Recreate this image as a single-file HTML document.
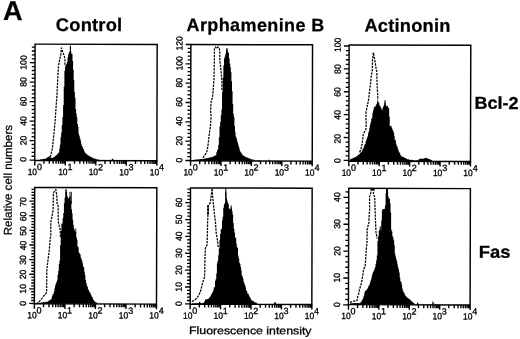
<!DOCTYPE html>
<html lang="en">
<head>
<meta charset="utf-8">
<title>Figure A</title>
<style>
html,body{margin:0;padding:0;background:#fff;}
body{width:520px;height:339px;overflow:hidden;}
svg{display:block;}
</style>
</head>
<body>
<svg width="520" height="339" viewBox="0 0 520 339" font-family='"Liberation Sans", Arial, Helvetica, sans-serif'>
<rect width="520" height="339" fill="#fff"/>
<g transform="rotate(0.15 260 170)">
<text x="2.71" y="20.77" font-size="27.4" font-weight="bold" text-anchor="start" fill="#000" stroke="#000" stroke-width="0.2" textLength="19.60" lengthAdjust="spacingAndGlyphs">A</text>
<text x="55.44" y="31.43" font-size="18.3" font-weight="bold" text-anchor="start" fill="#000" stroke="#000" stroke-width="0.25" textLength="66.40" lengthAdjust="spacing">Control</text>
<text x="186.24" y="31.19" font-size="18.0" font-weight="bold" text-anchor="start" fill="#000" stroke="#000" stroke-width="0.25" textLength="137.60" lengthAdjust="spacing">Arphamenine B</text>
<text x="364.04" y="31.33" font-size="18.3" font-weight="bold" text-anchor="start" fill="#000" stroke="#000" stroke-width="0.25" textLength="86.00" lengthAdjust="spacing">Actinonin</text>
<text x="474.34" y="108.24" font-size="17.2" font-weight="bold" text-anchor="start" fill="#000" stroke="#000" stroke-width="0.3" textLength="44.00" lengthAdjust="spacingAndGlyphs">Bcl-2</text>
<text x="479.03" y="257.13" font-size="17.2" font-weight="bold" text-anchor="start" fill="#000" stroke="#000" stroke-width="0.3" textLength="31.60" lengthAdjust="spacingAndGlyphs">Fas</text>
<text x="11.87" y="235.95" font-size="11.4" font-weight="normal" text-anchor="start" fill="#000" stroke="#000" stroke-width="0.25" textLength="110.40" lengthAdjust="spacingAndGlyphs" transform="rotate(-90 11.87 235.95)">Relative cell numbers</text>
<text x="189.53" y="334.29" font-size="10.8" font-weight="normal" text-anchor="start" fill="#000" stroke="#000" stroke-width="0.3" textLength="122.40" lengthAdjust="spacingAndGlyphs">Fluorescence intensity</text>
<rect x="34.75" y="44.70" width="122.10" height="116.30" fill="none" stroke="#000" stroke-width="1.45"/>
<path d="M34.75 161.00 v5.00 M43.94 161.00 v3.30 M49.31 161.00 v3.30 M53.13 161.00 v3.30 M56.09 161.00 v3.30 M58.50 161.00 v3.30 M60.55 161.00 v3.30 M62.32 161.00 v3.30 M63.88 161.00 v3.30 M65.28 161.00 v5.00 M74.46 161.00 v3.30 M79.84 161.00 v3.30 M83.65 161.00 v3.30 M86.61 161.00 v3.30 M89.03 161.00 v3.30 M91.07 161.00 v3.30 M92.84 161.00 v3.30 M94.40 161.00 v3.30 M95.80 161.00 v5.00 M104.99 161.00 v3.30 M110.36 161.00 v3.30 M114.18 161.00 v3.30 M117.14 161.00 v3.30 M119.55 161.00 v3.30 M121.60 161.00 v3.30 M123.37 161.00 v3.30 M124.93 161.00 v3.30 M126.32 161.00 v5.00 M135.51 161.00 v3.30 M140.89 161.00 v3.30 M144.70 161.00 v3.30 M147.66 161.00 v3.30 M150.08 161.00 v3.30 M152.12 161.00 v3.30 M153.89 161.00 v3.30 M155.45 161.00 v3.30 M156.85 161.00 v5.0" stroke="#000" stroke-width="1.4" fill="none"/>
<text x="27.65" y="175.50" font-size="9.0" font-weight="normal" text-anchor="start" fill="#000" stroke="#000" stroke-width="0.3" textLength="9.40" lengthAdjust="spacingAndGlyphs">10</text>
<text x="36.95" y="170.60" font-size="9.0" font-weight="normal" text-anchor="start" fill="#000" stroke="#000" stroke-width="0.3">0</text>
<text x="58.18" y="175.50" font-size="9.0" font-weight="normal" text-anchor="start" fill="#000" stroke="#000" stroke-width="0.3" textLength="9.40" lengthAdjust="spacingAndGlyphs">10</text>
<text x="67.48" y="170.60" font-size="9.0" font-weight="normal" text-anchor="start" fill="#000" stroke="#000" stroke-width="0.3">1</text>
<text x="88.70" y="175.50" font-size="9.0" font-weight="normal" text-anchor="start" fill="#000" stroke="#000" stroke-width="0.3" textLength="9.40" lengthAdjust="spacingAndGlyphs">10</text>
<text x="98.00" y="170.60" font-size="9.0" font-weight="normal" text-anchor="start" fill="#000" stroke="#000" stroke-width="0.3">2</text>
<text x="119.22" y="175.50" font-size="9.0" font-weight="normal" text-anchor="start" fill="#000" stroke="#000" stroke-width="0.3" textLength="9.40" lengthAdjust="spacingAndGlyphs">10</text>
<text x="128.52" y="170.60" font-size="9.0" font-weight="normal" text-anchor="start" fill="#000" stroke="#000" stroke-width="0.3">3</text>
<text x="149.75" y="175.50" font-size="9.0" font-weight="normal" text-anchor="start" fill="#000" stroke="#000" stroke-width="0.3" textLength="9.40" lengthAdjust="spacingAndGlyphs">10</text>
<text x="159.05" y="170.60" font-size="9.0" font-weight="normal" text-anchor="start" fill="#000" stroke="#000" stroke-width="0.3">4</text>
<path d="M34.75 160.70 h-5.20 M34.75 156.80 h-3.20 M34.75 152.91 h-3.20 M34.75 149.01 h-3.20 M34.75 145.12 h-3.20 M34.75 141.22 h-5.20 M34.75 137.32 h-3.20 M34.75 133.43 h-3.20 M34.75 129.53 h-3.20 M34.75 125.64 h-3.20 M34.75 121.74 h-5.20 M34.75 117.84 h-3.20 M34.75 113.95 h-3.20 M34.75 110.05 h-3.20 M34.75 106.16 h-3.20 M34.75 102.26 h-5.20 M34.75 98.36 h-3.20 M34.75 94.47 h-3.20 M34.75 90.57 h-3.20 M34.75 86.68 h-3.20 M34.75 82.78 h-5.20 M34.75 78.88 h-3.20 M34.75 74.99 h-3.20 M34.75 71.09 h-3.20 M34.75 67.20 h-3.20 M34.75 63.30 h-5.20 M34.75 59.40 h-3.20 M34.75 55.51 h-3.20 M34.75 51.61 h-3.20 M34.75 47.72 h-3.20" stroke="#000" stroke-width="1.35" fill="none"/>
<text x="26.35" y="160.00" font-size="9.0" font-weight="normal" text-anchor="middle" fill="#000" stroke="#000" stroke-width="0.3" textLength="4.80" lengthAdjust="spacingAndGlyphs" transform="rotate(-90 26.35 160.00)">0</text>
<text x="26.35" y="141.02" font-size="9.0" font-weight="normal" text-anchor="middle" fill="#000" stroke="#000" stroke-width="0.3" textLength="9.60" lengthAdjust="spacingAndGlyphs" transform="rotate(-90 26.35 141.02)">20</text>
<text x="26.35" y="121.54" font-size="9.0" font-weight="normal" text-anchor="middle" fill="#000" stroke="#000" stroke-width="0.3" textLength="9.60" lengthAdjust="spacingAndGlyphs" transform="rotate(-90 26.35 121.54)">40</text>
<text x="26.35" y="102.06" font-size="9.0" font-weight="normal" text-anchor="middle" fill="#000" stroke="#000" stroke-width="0.3" textLength="9.60" lengthAdjust="spacingAndGlyphs" transform="rotate(-90 26.35 102.06)">60</text>
<text x="26.35" y="82.58" font-size="9.0" font-weight="normal" text-anchor="middle" fill="#000" stroke="#000" stroke-width="0.3" textLength="9.60" lengthAdjust="spacingAndGlyphs" transform="rotate(-90 26.35 82.58)">80</text>
<text x="26.35" y="63.10" font-size="9.0" font-weight="normal" text-anchor="middle" fill="#000" stroke="#000" stroke-width="0.3" textLength="14.40" lengthAdjust="spacingAndGlyphs" transform="rotate(-90 26.35 63.10)">100</text>
<path d="M39.97 160.70 L39.97 160.01 L40.59 160.01 L40.59 159.84 L41.21 159.84 L41.21 160.02 L41.83 160.02 L41.83 159.66 L42.45 159.66 L42.45 159.79 L43.07 159.79 L43.07 159.61 L43.69 159.61 L43.69 159.41 L44.31 159.41 L44.31 159.52 L44.93 159.52 L44.93 159.19 L45.55 159.19 L45.55 159.24 L46.17 159.24 L46.17 158.60 L46.79 158.60 L46.79 158.08 L47.41 158.08 L47.41 157.75 L48.03 157.75 L48.03 157.44 L48.65 157.44 L48.65 156.76 L49.27 156.76 L49.27 157.00 L49.89 157.00 L49.89 157.58 L50.51 157.58 L50.51 158.12 L51.13 158.12 L51.13 158.29 L51.75 158.29 L51.75 158.44 L52.37 158.44 L52.37 158.47 L52.99 158.47 L52.99 157.67 L53.61 157.67 L53.61 157.78 L54.23 157.78 L54.23 157.17 L54.85 157.17 L54.85 156.69 L55.47 156.69 L55.47 156.13 L56.09 156.13 L56.09 155.57 L56.71 155.57 L56.71 155.25 L57.33 155.25 L57.33 154.02 L57.95 154.02 L57.95 153.70 L58.57 153.70 L58.57 152.80 L59.19 152.80 L59.19 148.96 L59.81 148.96 L59.81 145.13 L60.43 145.13 L60.43 137.80 L61.05 137.80 L61.05 132.96 L61.67 132.96 L61.67 125.58 L62.29 125.58 L62.29 117.45 L62.91 117.45 L62.91 105.76 L63.53 105.76 L63.53 87.28 L64.15 87.28 L64.15 71.16 L64.77 71.16 L64.77 66.96 L65.39 66.96 L65.39 65.08 L66.01 65.08 L66.01 64.82 L66.63 64.82 L66.63 62.50 L67.25 62.50 L67.25 57.66 L67.87 57.66 L67.87 54.82 L68.49 54.82 L68.49 52.77 L69.11 52.77 L69.11 52.20 L69.73 52.20 L69.73 52.00 L70.35 52.00 L70.35 51.86 L70.97 51.86 L70.97 54.18 L71.59 54.18 L71.59 54.17 L72.21 54.17 L72.21 61.57 L72.83 61.57 L72.83 70.44 L73.45 70.44 L73.45 80.52 L74.07 80.52 L74.07 92.41 L74.69 92.41 L74.69 98.27 L75.31 98.27 L75.31 109.38 L75.93 109.38 L75.93 114.03 L76.55 114.03 L76.55 117.74 L77.17 117.74 L77.17 124.57 L77.79 124.57 L77.79 127.21 L78.41 127.21 L78.41 134.25 L79.03 134.25 L79.03 136.26 L79.65 136.26 L79.65 138.70 L80.27 138.70 L80.27 140.80 L80.89 140.80 L80.89 143.86 L81.51 143.86 L81.51 146.24 L82.13 146.24 L82.13 147.25 L82.75 147.25 L82.75 149.22 L83.37 149.22 L83.37 149.55 L83.99 149.55 L83.99 151.61 L84.61 151.61 L84.61 152.65 L85.23 152.65 L85.23 153.68 L85.85 153.68 L85.85 154.12 L86.47 154.12 L86.47 154.39 L87.09 154.39 L87.09 155.09 L87.71 155.09 L87.71 155.88 L88.33 155.88 L88.33 156.06 L88.95 156.06 L88.95 156.61 L89.57 156.61 L89.57 156.76 L90.19 156.76 L90.19 157.04 L90.81 157.04 L90.81 157.32 L91.43 157.32 L91.43 158.00 L92.05 158.00 L92.05 157.98 L92.67 157.98 L92.67 158.33 L93.29 158.33 L93.29 158.62 L93.91 158.62 L93.91 159.06 L94.53 159.06 L94.53 158.83 L95.15 158.83 L95.15 159.21 L95.77 159.21 L95.77 159.44 L96.39 159.44 L96.39 159.80 L97.01 159.80 L97.01 159.94 L97.63 159.94 L97.63 160.12 L98.25 160.12 L98.25 159.97 L98.87 159.97 L98.87 160.18 L99.49 160.18 L99.49 160.31 L100.11 160.31 L100.11 160.70 L100.73 160.70 L100.73 160.70 L101.35 160.70 L101.35 160.56 L101.97 160.56 L101.97 160.60 L102.59 160.60 L102.59 160.65 L103.21 160.65 L103.21 160.66 L103.83 160.66 L103.83 160.70 L104.45 160.70 L104.45 160.70 L105.07 160.70 L105.07 160.70 L105.69 160.70 L105.69 160.70 L106.31 160.70 L106.31 160.70 L106.93 160.70 L106.93 160.70 L107.55 160.70 L107.55 160.70 L108.17 160.70 L108.17 160.70 L108.79 160.70 L108.79 160.70 L109.41 160.70 L109.41 160.70 L110.03 160.70 L110.03 160.70 L110.65 160.70 L110.65 160.70 L111.27 160.70 L111.27 160.19 L111.89 160.19 L111.89 159.38 L112.51 159.38 L112.51 158.83 L113.13 158.83 L113.13 160.09 L113.75 160.09 L113.75 160.70 L114.37 160.70 L114.37 160.70 L114.98 160.70 L114.98 160.70 Z" fill="#000"/>
<path d="M70.07 46.20 L70.09 52.50" stroke="#000" stroke-width="1.15" fill="none"/>
<path d="M49.97 157.55 L50.96 155.55 L52.44 148.14 L53.22 140.04 L54.20 130.54 L55.07 121.04 L55.84 108.53 L56.42 100.53 L56.80 94.53 L57.75 74.13 L58.23 66.53 L59.31 60.52 L60.50 55.52 L61.08 48.32 L62.39 52.52 L63.90 56.01 L64.71 60.51 L64.73 66.51" fill="none" stroke="#000" stroke-width="1.25" stroke-dasharray="2.3 1.0" stroke-linejoin="round"/>
<rect x="190.55" y="44.70" width="121.65" height="116.30" fill="none" stroke="#000" stroke-width="1.45"/>
<path d="M190.55 161.00 v5.00 M199.71 161.00 v3.30 M205.06 161.00 v3.30 M208.86 161.00 v3.30 M211.81 161.00 v3.30 M214.22 161.00 v3.30 M216.25 161.00 v3.30 M218.02 161.00 v3.30 M219.57 161.00 v3.30 M220.96 161.00 v5.00 M230.12 161.00 v3.30 M235.47 161.00 v3.30 M239.27 161.00 v3.30 M242.22 161.00 v3.30 M244.63 161.00 v3.30 M246.66 161.00 v3.30 M248.43 161.00 v3.30 M249.98 161.00 v3.30 M251.38 161.00 v5.00 M260.53 161.00 v3.30 M265.89 161.00 v3.30 M269.69 161.00 v3.30 M272.63 161.00 v3.30 M275.04 161.00 v3.30 M277.08 161.00 v3.30 M278.84 161.00 v3.30 M280.40 161.00 v3.30 M281.79 161.00 v5.00 M290.94 161.00 v3.30 M296.30 161.00 v3.30 M300.10 161.00 v3.30 M303.04 161.00 v3.30 M305.45 161.00 v3.30 M307.49 161.00 v3.30 M309.25 161.00 v3.30 M310.81 161.00 v3.30 M312.20 161.00 v5.0" stroke="#000" stroke-width="1.4" fill="none"/>
<text x="183.45" y="175.50" font-size="9.0" font-weight="normal" text-anchor="start" fill="#000" stroke="#000" stroke-width="0.3" textLength="9.40" lengthAdjust="spacingAndGlyphs">10</text>
<text x="192.75" y="170.60" font-size="9.0" font-weight="normal" text-anchor="start" fill="#000" stroke="#000" stroke-width="0.3">0</text>
<text x="213.86" y="175.50" font-size="9.0" font-weight="normal" text-anchor="start" fill="#000" stroke="#000" stroke-width="0.3" textLength="9.40" lengthAdjust="spacingAndGlyphs">10</text>
<text x="223.16" y="170.60" font-size="9.0" font-weight="normal" text-anchor="start" fill="#000" stroke="#000" stroke-width="0.3">1</text>
<text x="244.28" y="175.50" font-size="9.0" font-weight="normal" text-anchor="start" fill="#000" stroke="#000" stroke-width="0.3" textLength="9.40" lengthAdjust="spacingAndGlyphs">10</text>
<text x="253.57" y="170.60" font-size="9.0" font-weight="normal" text-anchor="start" fill="#000" stroke="#000" stroke-width="0.3">2</text>
<text x="274.69" y="175.50" font-size="9.0" font-weight="normal" text-anchor="start" fill="#000" stroke="#000" stroke-width="0.3" textLength="9.40" lengthAdjust="spacingAndGlyphs">10</text>
<text x="283.99" y="170.60" font-size="9.0" font-weight="normal" text-anchor="start" fill="#000" stroke="#000" stroke-width="0.3">3</text>
<text x="305.10" y="175.50" font-size="9.0" font-weight="normal" text-anchor="start" fill="#000" stroke="#000" stroke-width="0.3" textLength="9.40" lengthAdjust="spacingAndGlyphs">10</text>
<text x="314.40" y="170.60" font-size="9.0" font-weight="normal" text-anchor="start" fill="#000" stroke="#000" stroke-width="0.3">4</text>
<path d="M190.55 160.70 h-5.20 M190.55 156.83 h-3.20 M190.55 152.96 h-3.20 M190.55 149.10 h-3.20 M190.55 145.23 h-3.20 M190.55 141.36 h-5.20 M190.55 137.49 h-3.20 M190.55 133.62 h-3.20 M190.55 129.76 h-3.20 M190.55 125.89 h-3.20 M190.55 122.02 h-5.20 M190.55 118.15 h-3.20 M190.55 114.28 h-3.20 M190.55 110.42 h-3.20 M190.55 106.55 h-3.20 M190.55 102.68 h-5.20 M190.55 98.81 h-3.20 M190.55 94.94 h-3.20 M190.55 91.08 h-3.20 M190.55 87.21 h-3.20 M190.55 83.34 h-5.20 M190.55 79.47 h-3.20 M190.55 75.60 h-3.20 M190.55 71.74 h-3.20 M190.55 67.87 h-3.20 M190.55 64.00 h-5.20 M190.55 60.13 h-3.20 M190.55 56.26 h-3.20 M190.55 52.40 h-3.20 M190.55 48.53 h-3.20 M190.55 44.66 h-5.20" stroke="#000" stroke-width="1.35" fill="none"/>
<text x="182.15" y="160.20" font-size="9.0" font-weight="normal" text-anchor="middle" fill="#000" stroke="#000" stroke-width="0.3" textLength="4.80" lengthAdjust="spacingAndGlyphs" transform="rotate(-90 182.15 160.20)">0</text>
<text x="182.15" y="140.86" font-size="9.0" font-weight="normal" text-anchor="middle" fill="#000" stroke="#000" stroke-width="0.3" textLength="9.60" lengthAdjust="spacingAndGlyphs" transform="rotate(-90 182.15 140.86)">20</text>
<text x="182.15" y="121.52" font-size="9.0" font-weight="normal" text-anchor="middle" fill="#000" stroke="#000" stroke-width="0.3" textLength="9.60" lengthAdjust="spacingAndGlyphs" transform="rotate(-90 182.15 121.52)">40</text>
<text x="182.15" y="102.18" font-size="9.0" font-weight="normal" text-anchor="middle" fill="#000" stroke="#000" stroke-width="0.3" textLength="9.60" lengthAdjust="spacingAndGlyphs" transform="rotate(-90 182.15 102.18)">60</text>
<text x="182.15" y="82.84" font-size="9.0" font-weight="normal" text-anchor="middle" fill="#000" stroke="#000" stroke-width="0.3" textLength="9.60" lengthAdjust="spacingAndGlyphs" transform="rotate(-90 182.15 82.84)">80</text>
<text x="182.15" y="63.50" font-size="9.0" font-weight="normal" text-anchor="middle" fill="#000" stroke="#000" stroke-width="0.3" textLength="14.40" lengthAdjust="spacingAndGlyphs" transform="rotate(-90 182.15 63.50)">100</text>
<text x="182.15" y="43.56" font-size="9.0" font-weight="normal" text-anchor="middle" fill="#000" stroke="#000" stroke-width="0.3" textLength="14.40" lengthAdjust="spacingAndGlyphs" transform="rotate(-90 182.15 43.56)">120</text>
<path d="M193.97 160.70 L193.97 159.88 L194.59 159.88 L194.59 159.75 L195.21 159.75 L195.21 159.92 L195.83 159.92 L195.83 159.66 L196.45 159.66 L196.45 159.62 L197.07 159.62 L197.07 159.57 L197.69 159.57 L197.69 159.53 L198.31 159.53 L198.31 159.55 L198.93 159.55 L198.93 159.43 L199.55 159.43 L199.55 159.35 L200.17 159.35 L200.17 159.27 L200.79 159.27 L200.79 159.17 L201.41 159.17 L201.41 159.21 L202.03 159.21 L202.03 158.99 L202.65 158.99 L202.65 159.30 L203.27 159.30 L203.27 159.07 L203.89 159.07 L203.89 158.74 L204.51 158.74 L204.51 158.70 L205.13 158.70 L205.13 158.62 L205.75 158.62 L205.75 158.49 L206.37 158.49 L206.37 158.22 L206.99 158.22 L206.99 158.47 L207.61 158.47 L207.61 158.40 L208.23 158.40 L208.23 157.99 L208.85 157.99 L208.85 157.86 L209.47 157.86 L209.47 157.51 L210.09 157.51 L210.09 157.38 L210.71 157.38 L210.71 157.36 L211.33 157.36 L211.33 157.18 L211.95 157.18 L211.95 157.27 L212.57 157.27 L212.57 156.63 L213.19 156.63 L213.19 156.25 L213.81 156.25 L213.81 156.44 L214.43 156.44 L214.43 155.91 L215.05 155.91 L215.05 155.40 L215.67 155.40 L215.67 155.41 L216.29 155.41 L216.29 152.26 L216.91 152.26 L216.91 150.68 L217.53 150.68 L217.53 149.42 L218.15 149.42 L218.15 145.22 L218.77 145.22 L218.77 137.35 L219.39 137.35 L219.39 126.56 L220.01 126.56 L220.01 122.00 L220.63 122.00 L220.63 115.34 L221.25 115.34 L221.25 109.65 L221.87 109.65 L221.87 91.71 L222.49 91.71 L222.49 77.83 L223.11 77.83 L223.11 65.59 L223.73 65.59 L223.73 58.64 L224.35 58.64 L224.35 56.71 L224.97 56.71 L224.97 53.99 L225.59 53.99 L225.59 51.21 L226.21 51.21 L226.21 49.06 L226.83 49.06 L226.83 49.97 L227.45 49.97 L227.45 52.38 L228.07 52.38 L228.07 53.10 L228.69 53.10 L228.69 58.69 L229.31 58.69 L229.31 63.50 L229.93 63.50 L229.93 67.26 L230.55 67.26 L230.55 72.27 L231.17 72.27 L231.17 81.43 L231.79 81.43 L231.79 91.29 L232.41 91.29 L232.41 103.99 L233.03 103.99 L233.03 113.86 L233.65 113.86 L233.65 116.97 L234.27 116.97 L234.27 126.12 L234.89 126.12 L234.89 132.24 L235.51 132.24 L235.51 136.48 L236.13 136.48 L236.13 138.18 L236.75 138.18 L236.75 140.59 L237.37 140.59 L237.37 142.79 L237.99 142.79 L237.99 144.88 L238.61 144.88 L238.61 146.95 L239.23 146.95 L239.23 149.38 L239.85 149.38 L239.85 151.26 L240.47 151.26 L240.47 152.30 L241.09 152.30 L241.09 153.00 L241.71 153.00 L241.71 154.32 L242.33 154.32 L242.33 155.27 L242.95 155.27 L242.95 155.20 L243.57 155.20 L243.57 155.88 L244.19 155.88 L244.19 156.38 L244.81 156.38 L244.81 156.69 L245.43 156.69 L245.43 157.05 L246.05 157.05 L246.05 157.23 L246.67 157.23 L246.67 157.32 L247.29 157.32 L247.29 157.88 L247.91 157.88 L247.91 157.89 L248.53 157.89 L248.53 158.38 L249.15 158.38 L249.15 158.72 L249.77 158.72 L249.77 158.66 L250.39 158.66 L250.39 158.88 L251.01 158.88 L251.01 159.38 L251.63 159.38 L251.63 159.48 L252.25 159.48 L252.25 159.40 L252.87 159.40 L252.87 159.60 L253.49 159.60 L253.49 159.82 L254.11 159.82 L254.11 160.39 L254.73 160.39 L254.73 160.56 L255.35 160.56 L255.35 160.47 L255.97 160.47 L255.97 160.70 L256.59 160.70 L256.59 160.70 L257.21 160.70 L257.21 160.70 L257.83 160.70 L257.83 159.96 L258.45 159.96 L258.45 160.03 L259.07 160.03 L259.07 160.53 L259.69 160.53 L259.69 160.56 L260.31 160.56 L260.31 160.70 L260.93 160.70 L260.93 160.70 L261.55 160.70 L261.55 160.70 L262.17 160.70 L262.17 160.70 L262.79 160.70 L262.79 160.70 L263.41 160.70 L263.41 160.70 L264.03 160.70 L264.03 160.70 L264.65 160.70 L264.65 160.70 L265.27 160.70 L265.27 160.70 L265.89 160.70 L265.89 160.70 L266.51 160.70 L266.51 160.70 L267.13 160.70 L267.13 160.70 L267.75 160.70 L267.75 160.50 L268.37 160.50 L268.37 159.76 L268.99 159.76 L268.99 159.64 L269.61 159.64 L269.61 160.70 L270.23 160.70 L270.23 160.70 L270.85 160.70 L270.85 160.70 L270.98 160.70 L270.98 160.70 Z" fill="#000"/>
<path d="M226.68 48.09 L226.70 55.09" stroke="#000" stroke-width="1.1" fill="none"/>
<path d="M202.97 157.95 L204.16 156.15 L205.36 154.34 L206.95 151.34 L207.74 146.74 L208.72 138.63 L209.30 132.93 L210.29 127.13 L210.96 116.13 L210.45 112.13 L210.92 102.13 L212.31 97.62 L212.99 90.12 L213.76 79.12 L214.11 60.12 L214.08 48.62 L215.18 47.12 L216.28 48.61 L217.48 47.11 L218.88 47.71 L219.49 52.11 L219.51 60.11 L220.33 67.10 L221.56 79.10 L221.79 90.10" fill="none" stroke="#000" stroke-width="1.25" stroke-dasharray="2.3 1.0" stroke-linejoin="round"/>
<rect x="348.80" y="44.70" width="121.65" height="116.30" fill="none" stroke="#000" stroke-width="1.45"/>
<path d="M348.80 161.00 v5.00 M357.96 161.00 v3.30 M363.31 161.00 v3.30 M367.11 161.00 v3.30 M370.06 161.00 v3.30 M372.47 161.00 v3.30 M374.50 161.00 v3.30 M376.27 161.00 v3.30 M377.82 161.00 v3.30 M379.21 161.00 v5.00 M388.37 161.00 v3.30 M393.72 161.00 v3.30 M397.52 161.00 v3.30 M400.47 161.00 v3.30 M402.88 161.00 v3.30 M404.91 161.00 v3.30 M406.68 161.00 v3.30 M408.23 161.00 v3.30 M409.62 161.00 v5.00 M418.78 161.00 v3.30 M424.14 161.00 v3.30 M427.94 161.00 v3.30 M430.88 161.00 v3.30 M433.29 161.00 v3.30 M435.33 161.00 v3.30 M437.09 161.00 v3.30 M438.65 161.00 v3.30 M440.04 161.00 v5.00 M449.19 161.00 v3.30 M454.55 161.00 v3.30 M458.35 161.00 v3.30 M461.29 161.00 v3.30 M463.70 161.00 v3.30 M465.74 161.00 v3.30 M467.50 161.00 v3.30 M469.06 161.00 v3.30 M470.45 161.00 v5.0" stroke="#000" stroke-width="1.4" fill="none"/>
<text x="341.70" y="175.50" font-size="9.0" font-weight="normal" text-anchor="start" fill="#000" stroke="#000" stroke-width="0.3" textLength="9.40" lengthAdjust="spacingAndGlyphs">10</text>
<text x="351.00" y="170.60" font-size="9.0" font-weight="normal" text-anchor="start" fill="#000" stroke="#000" stroke-width="0.3">0</text>
<text x="372.11" y="175.50" font-size="9.0" font-weight="normal" text-anchor="start" fill="#000" stroke="#000" stroke-width="0.3" textLength="9.40" lengthAdjust="spacingAndGlyphs">10</text>
<text x="381.41" y="170.60" font-size="9.0" font-weight="normal" text-anchor="start" fill="#000" stroke="#000" stroke-width="0.3">1</text>
<text x="402.52" y="175.50" font-size="9.0" font-weight="normal" text-anchor="start" fill="#000" stroke="#000" stroke-width="0.3" textLength="9.40" lengthAdjust="spacingAndGlyphs">10</text>
<text x="411.82" y="170.60" font-size="9.0" font-weight="normal" text-anchor="start" fill="#000" stroke="#000" stroke-width="0.3">2</text>
<text x="432.94" y="175.50" font-size="9.0" font-weight="normal" text-anchor="start" fill="#000" stroke="#000" stroke-width="0.3" textLength="9.40" lengthAdjust="spacingAndGlyphs">10</text>
<text x="442.24" y="170.60" font-size="9.0" font-weight="normal" text-anchor="start" fill="#000" stroke="#000" stroke-width="0.3">3</text>
<text x="463.35" y="175.50" font-size="9.0" font-weight="normal" text-anchor="start" fill="#000" stroke="#000" stroke-width="0.3" textLength="9.40" lengthAdjust="spacingAndGlyphs">10</text>
<text x="472.65" y="170.60" font-size="9.0" font-weight="normal" text-anchor="start" fill="#000" stroke="#000" stroke-width="0.3">4</text>
<path d="M348.80 160.20 h-5.20 M348.80 155.62 h-3.20 M348.80 151.05 h-3.20 M348.80 146.47 h-3.20 M348.80 141.90 h-3.20 M348.80 137.32 h-5.20 M348.80 132.74 h-3.20 M348.80 128.17 h-3.20 M348.80 123.59 h-3.20 M348.80 119.02 h-3.20 M348.80 114.44 h-5.20 M348.80 109.86 h-3.20 M348.80 105.29 h-3.20 M348.80 100.71 h-3.20 M348.80 96.14 h-3.20 M348.80 91.56 h-5.20 M348.80 86.98 h-3.20 M348.80 82.41 h-3.20 M348.80 77.83 h-3.20 M348.80 73.26 h-3.20 M348.80 68.68 h-5.20 M348.80 64.10 h-3.20 M348.80 59.53 h-3.20 M348.80 54.95 h-3.20 M348.80 50.38 h-3.20 M348.80 45.80 h-5.20" stroke="#000" stroke-width="1.35" fill="none"/>
<text x="340.40" y="160.40" font-size="9.0" font-weight="normal" text-anchor="middle" fill="#000" stroke="#000" stroke-width="0.3" textLength="4.80" lengthAdjust="spacingAndGlyphs" transform="rotate(-90 340.40 160.40)">0</text>
<text x="340.40" y="138.42" font-size="9.0" font-weight="normal" text-anchor="middle" fill="#000" stroke="#000" stroke-width="0.3" textLength="9.60" lengthAdjust="spacingAndGlyphs" transform="rotate(-90 340.40 138.42)">20</text>
<text x="340.40" y="114.64" font-size="9.0" font-weight="normal" text-anchor="middle" fill="#000" stroke="#000" stroke-width="0.3" textLength="9.60" lengthAdjust="spacingAndGlyphs" transform="rotate(-90 340.40 114.64)">40</text>
<text x="340.40" y="91.76" font-size="9.0" font-weight="normal" text-anchor="middle" fill="#000" stroke="#000" stroke-width="0.3" textLength="9.60" lengthAdjust="spacingAndGlyphs" transform="rotate(-90 340.40 91.76)">60</text>
<text x="340.40" y="68.88" font-size="9.0" font-weight="normal" text-anchor="middle" fill="#000" stroke="#000" stroke-width="0.3" textLength="9.60" lengthAdjust="spacingAndGlyphs" transform="rotate(-90 340.40 68.88)">80</text>
<text x="340.40" y="44.70" font-size="9.0" font-weight="normal" text-anchor="middle" fill="#000" stroke="#000" stroke-width="0.3" textLength="14.40" lengthAdjust="spacingAndGlyphs" transform="rotate(-90 340.40 44.70)">100</text>
<path d="M349.97 160.70 L349.97 158.93 L350.59 158.93 L350.59 158.85 L351.21 158.85 L351.21 158.35 L351.83 158.35 L351.83 158.37 L352.45 158.37 L352.45 157.90 L353.07 157.90 L353.07 157.67 L353.69 157.67 L353.69 157.42 L354.31 157.42 L354.31 156.91 L354.93 156.91 L354.93 156.89 L355.55 156.89 L355.55 156.50 L356.17 156.50 L356.17 156.10 L356.79 156.10 L356.79 156.00 L357.41 156.00 L357.41 155.06 L358.03 155.06 L358.03 154.68 L358.65 154.68 L358.65 154.26 L359.27 154.26 L359.27 153.57 L359.89 153.57 L359.89 152.84 L360.51 152.84 L360.51 152.35 L361.13 152.35 L361.13 151.42 L361.75 151.42 L361.75 150.62 L362.37 150.62 L362.37 148.72 L362.99 148.72 L362.99 148.20 L363.61 148.20 L363.61 146.36 L364.23 146.36 L364.23 144.57 L364.85 144.57 L364.85 143.70 L365.47 143.70 L365.47 141.29 L366.09 141.29 L366.09 139.50 L366.71 139.50 L366.71 137.84 L367.33 137.84 L367.33 136.03 L367.95 136.03 L367.95 132.73 L368.57 132.73 L368.57 130.69 L369.19 130.69 L369.19 127.28 L369.81 127.28 L369.81 124.08 L370.43 124.08 L370.43 121.92 L371.05 121.92 L371.05 118.81 L371.67 118.81 L371.67 116.84 L372.29 116.84 L372.29 112.51 L372.91 112.51 L372.91 109.94 L373.53 109.94 L373.53 107.09 L374.15 107.09 L374.15 106.51 L374.77 106.51 L374.77 106.29 L375.39 106.29 L375.39 105.17 L376.01 105.17 L376.01 103.87 L376.63 103.87 L376.63 102.69 L377.25 102.69 L377.25 101.42 L377.87 101.42 L377.87 101.62 L378.49 101.62 L378.49 102.63 L379.11 102.63 L379.11 104.85 L379.73 104.85 L379.73 105.77 L380.35 105.77 L380.35 106.95 L380.97 106.95 L380.97 108.52 L381.59 108.52 L381.59 109.90 L382.21 109.90 L382.21 107.78 L382.83 107.78 L382.83 106.53 L383.45 106.53 L383.45 105.06 L384.07 105.06 L384.07 102.90 L384.69 102.90 L384.69 101.90 L385.31 101.90 L385.31 104.34 L385.93 104.34 L385.93 105.74 L386.55 105.74 L386.55 105.84 L387.17 105.84 L387.17 105.51 L387.79 105.51 L387.79 107.06 L388.41 107.06 L388.41 107.79 L389.03 107.79 L389.03 116.43 L389.65 116.43 L389.65 126.11 L390.27 126.11 L390.27 125.31 L390.89 125.31 L390.89 125.68 L391.51 125.68 L391.51 127.55 L392.13 127.55 L392.13 129.15 L392.75 129.15 L392.75 130.35 L393.37 130.35 L393.37 132.23 L393.99 132.23 L393.99 135.48 L394.61 135.48 L394.61 139.45 L395.23 139.45 L395.23 139.96 L395.85 139.96 L395.85 143.42 L396.47 143.42 L396.47 145.29 L397.09 145.29 L397.09 146.48 L397.71 146.48 L397.71 148.66 L398.33 148.66 L398.33 150.64 L398.95 150.64 L398.95 151.91 L399.57 151.91 L399.57 152.63 L400.19 152.63 L400.19 154.54 L400.81 154.54 L400.81 155.26 L401.43 155.26 L401.43 156.20 L402.05 156.20 L402.05 156.24 L402.67 156.24 L402.67 156.60 L403.29 156.60 L403.29 156.77 L403.91 156.77 L403.91 157.44 L404.53 157.44 L404.53 157.45 L405.15 157.45 L405.15 157.66 L405.77 157.66 L405.77 158.09 L406.39 158.09 L406.39 158.63 L407.01 158.63 L407.01 158.86 L407.63 158.86 L407.63 158.80 L408.25 158.80 L408.25 158.86 L408.87 158.86 L408.87 159.38 L409.49 159.38 L409.49 159.31 L410.11 159.31 L410.11 159.49 L410.73 159.49 L410.73 159.28 L411.35 159.28 L411.35 159.38 L411.97 159.38 L411.97 159.81 L412.59 159.81 L412.59 159.76 L413.21 159.76 L413.21 159.65 L413.83 159.65 L413.83 160.19 L414.45 160.19 L414.45 160.10 L415.07 160.10 L415.07 160.19 L415.69 160.19 L415.69 159.86 L416.31 159.86 L416.31 160.15 L416.93 160.15 L416.93 159.69 L417.55 159.69 L417.55 159.99 L418.17 159.99 L418.17 159.35 L418.79 159.35 L418.79 158.80 L419.41 158.80 L419.41 158.43 L420.03 158.43 L420.03 158.51 L420.65 158.51 L420.65 158.19 L421.27 158.19 L421.27 158.19 L421.89 158.19 L421.89 158.38 L422.51 158.38 L422.51 158.26 L423.13 158.26 L423.13 158.22 L423.75 158.22 L423.75 158.16 L424.37 158.16 L424.37 157.81 L424.99 157.81 L424.99 157.58 L425.61 157.58 L425.61 157.42 L426.23 157.42 L426.23 157.54 L426.85 157.54 L426.85 158.02 L427.47 158.02 L427.47 158.02 L428.09 158.02 L428.09 158.39 L428.71 158.39 L428.71 158.50 L429.33 158.50 L429.33 158.87 L429.95 158.87 L429.95 158.96 L430.57 158.96 L430.57 159.33 L431.19 159.33 L431.19 159.45 L431.81 159.45 L431.81 160.02 L431.97 160.02 L431.97 160.70 Z" fill="#000"/>
<path d="M377.52 100.29 L377.53 105.69" stroke="#000" stroke-width="1.1" fill="none"/>
<path d="M384.82 99.97 L384.83 106.17" stroke="#000" stroke-width="1.1" fill="none"/>
<path d="M359.55 151.94 L360.95 148.74 L362.03 144.03 L362.72 138.23 L363.31 133.73 L365.89 128.72 L366.07 121.72 L365.76 117.72 L365.95 111.72 L367.13 105.52 L368.32 99.72 L369.20 91.71 L370.27 83.71 L371.05 75.71 L372.04 69.71 L372.21 59.71 L373.09 52.30 L374.51 59.70 L375.73 67.70 L376.54 71.69 L376.88 84.69 L377.50 94.69 L377.52 99.69" fill="none" stroke="#000" stroke-width="1.25" stroke-dasharray="2.3 1.0" stroke-linejoin="round"/>
<rect x="34.75" y="188.10" width="122.10" height="116.30" fill="none" stroke="#000" stroke-width="1.45"/>
<path d="M34.75 304.40 v5.00 M43.94 304.40 v3.30 M49.31 304.40 v3.30 M53.13 304.40 v3.30 M56.09 304.40 v3.30 M58.50 304.40 v3.30 M60.55 304.40 v3.30 M62.32 304.40 v3.30 M63.88 304.40 v3.30 M65.28 304.40 v5.00 M74.46 304.40 v3.30 M79.84 304.40 v3.30 M83.65 304.40 v3.30 M86.61 304.40 v3.30 M89.03 304.40 v3.30 M91.07 304.40 v3.30 M92.84 304.40 v3.30 M94.40 304.40 v3.30 M95.80 304.40 v5.00 M104.99 304.40 v3.30 M110.36 304.40 v3.30 M114.18 304.40 v3.30 M117.14 304.40 v3.30 M119.55 304.40 v3.30 M121.60 304.40 v3.30 M123.37 304.40 v3.30 M124.93 304.40 v3.30 M126.32 304.40 v5.00 M135.51 304.40 v3.30 M140.89 304.40 v3.30 M144.70 304.40 v3.30 M147.66 304.40 v3.30 M150.08 304.40 v3.30 M152.12 304.40 v3.30 M153.89 304.40 v3.30 M155.45 304.40 v3.30 M156.85 304.40 v5.0" stroke="#000" stroke-width="1.4" fill="none"/>
<text x="27.65" y="318.90" font-size="9.0" font-weight="normal" text-anchor="start" fill="#000" stroke="#000" stroke-width="0.3" textLength="9.40" lengthAdjust="spacingAndGlyphs">10</text>
<text x="36.95" y="314.00" font-size="9.0" font-weight="normal" text-anchor="start" fill="#000" stroke="#000" stroke-width="0.3">0</text>
<text x="58.18" y="318.90" font-size="9.0" font-weight="normal" text-anchor="start" fill="#000" stroke="#000" stroke-width="0.3" textLength="9.40" lengthAdjust="spacingAndGlyphs">10</text>
<text x="67.48" y="314.00" font-size="9.0" font-weight="normal" text-anchor="start" fill="#000" stroke="#000" stroke-width="0.3">1</text>
<text x="88.70" y="318.90" font-size="9.0" font-weight="normal" text-anchor="start" fill="#000" stroke="#000" stroke-width="0.3" textLength="9.40" lengthAdjust="spacingAndGlyphs">10</text>
<text x="98.00" y="314.00" font-size="9.0" font-weight="normal" text-anchor="start" fill="#000" stroke="#000" stroke-width="0.3">2</text>
<text x="119.22" y="318.90" font-size="9.0" font-weight="normal" text-anchor="start" fill="#000" stroke="#000" stroke-width="0.3" textLength="9.40" lengthAdjust="spacingAndGlyphs">10</text>
<text x="128.52" y="314.00" font-size="9.0" font-weight="normal" text-anchor="start" fill="#000" stroke="#000" stroke-width="0.3">3</text>
<text x="149.75" y="318.90" font-size="9.0" font-weight="normal" text-anchor="start" fill="#000" stroke="#000" stroke-width="0.3" textLength="9.40" lengthAdjust="spacingAndGlyphs">10</text>
<text x="159.05" y="314.00" font-size="9.0" font-weight="normal" text-anchor="start" fill="#000" stroke="#000" stroke-width="0.3">4</text>
<path d="M34.75 304.05 h-5.20 M34.75 301.13 h-3.20 M34.75 298.20 h-3.20 M34.75 295.28 h-3.20 M34.75 292.35 h-3.20 M34.75 289.43 h-5.20 M34.75 286.51 h-3.20 M34.75 283.58 h-3.20 M34.75 280.66 h-3.20 M34.75 277.73 h-3.20 M34.75 274.81 h-5.20 M34.75 271.89 h-3.20 M34.75 268.96 h-3.20 M34.75 266.04 h-3.20 M34.75 263.11 h-3.20 M34.75 260.19 h-5.20 M34.75 257.27 h-3.20 M34.75 254.34 h-3.20 M34.75 251.42 h-3.20 M34.75 248.49 h-3.20 M34.75 245.57 h-5.20 M34.75 242.65 h-3.20 M34.75 239.72 h-3.20 M34.75 236.80 h-3.20 M34.75 233.87 h-3.20 M34.75 230.95 h-5.20 M34.75 228.03 h-3.20 M34.75 225.10 h-3.20 M34.75 222.18 h-3.20 M34.75 219.25 h-3.20 M34.75 216.33 h-5.20 M34.75 213.41 h-3.20 M34.75 210.48 h-3.20 M34.75 207.56 h-3.20 M34.75 204.63 h-3.20 M34.75 201.71 h-5.20 M34.75 198.79 h-3.20 M34.75 195.86 h-3.20 M34.75 192.94 h-3.20 M34.75 190.01 h-3.20" stroke="#000" stroke-width="1.35" fill="none"/>
<text x="26.35" y="303.95" font-size="9.0" font-weight="normal" text-anchor="middle" fill="#000" stroke="#000" stroke-width="0.3" textLength="4.80" lengthAdjust="spacingAndGlyphs" transform="rotate(-90 26.35 303.95)">0</text>
<text x="26.35" y="289.48" font-size="9.0" font-weight="normal" text-anchor="middle" fill="#000" stroke="#000" stroke-width="0.3" textLength="9.60" lengthAdjust="spacingAndGlyphs" transform="rotate(-90 26.35 289.48)">10</text>
<text x="26.35" y="275.01" font-size="9.0" font-weight="normal" text-anchor="middle" fill="#000" stroke="#000" stroke-width="0.3" textLength="9.60" lengthAdjust="spacingAndGlyphs" transform="rotate(-90 26.35 275.01)">20</text>
<text x="26.35" y="260.54" font-size="9.0" font-weight="normal" text-anchor="middle" fill="#000" stroke="#000" stroke-width="0.3" textLength="9.60" lengthAdjust="spacingAndGlyphs" transform="rotate(-90 26.35 260.54)">30</text>
<text x="26.35" y="246.07" font-size="9.0" font-weight="normal" text-anchor="middle" fill="#000" stroke="#000" stroke-width="0.3" textLength="9.60" lengthAdjust="spacingAndGlyphs" transform="rotate(-90 26.35 246.07)">40</text>
<text x="26.35" y="231.60" font-size="9.0" font-weight="normal" text-anchor="middle" fill="#000" stroke="#000" stroke-width="0.3" textLength="9.60" lengthAdjust="spacingAndGlyphs" transform="rotate(-90 26.35 231.60)">50</text>
<text x="26.35" y="217.13" font-size="9.0" font-weight="normal" text-anchor="middle" fill="#000" stroke="#000" stroke-width="0.3" textLength="9.60" lengthAdjust="spacingAndGlyphs" transform="rotate(-90 26.35 217.13)">60</text>
<text x="26.35" y="202.66" font-size="9.0" font-weight="normal" text-anchor="middle" fill="#000" stroke="#000" stroke-width="0.3" textLength="9.60" lengthAdjust="spacingAndGlyphs" transform="rotate(-90 26.35 202.66)">70</text>
<path d="M37.35 304.10 L37.35 303.62 L37.97 303.62 L37.97 303.36 L38.59 303.36 L38.59 303.41 L39.21 303.41 L39.21 303.55 L39.83 303.55 L39.83 303.02 L40.45 303.02 L40.45 303.30 L41.07 303.30 L41.07 303.01 L41.69 303.01 L41.69 302.95 L42.31 302.95 L42.31 303.03 L42.93 303.03 L42.93 302.70 L43.55 302.70 L43.55 302.67 L44.17 302.67 L44.17 302.69 L44.79 302.69 L44.79 302.77 L45.41 302.77 L45.41 302.36 L46.03 302.36 L46.03 302.54 L46.65 302.54 L46.65 302.40 L47.27 302.40 L47.27 302.29 L47.89 302.29 L47.89 302.05 L48.51 302.05 L48.51 301.67 L49.13 301.67 L49.13 301.09 L49.75 301.09 L49.75 300.71 L50.37 300.71 L50.37 300.26 L50.99 300.26 L50.99 300.31 L51.61 300.31 L51.61 298.78 L52.23 298.78 L52.23 296.82 L52.85 296.82 L52.85 294.83 L53.47 294.83 L53.47 294.52 L54.09 294.52 L54.09 292.16 L54.71 292.16 L54.71 288.88 L55.33 288.88 L55.33 285.93 L55.95 285.93 L55.95 284.19 L56.57 284.19 L56.57 282.58 L57.19 282.58 L57.19 280.83 L57.81 280.83 L57.81 275.21 L58.43 275.21 L58.43 271.57 L59.05 271.57 L59.05 264.58 L59.67 264.58 L59.67 261.37 L60.29 261.37 L60.29 245.60 L60.91 245.60 L60.91 231.31 L61.53 231.31 L61.53 224.35 L62.15 224.35 L62.15 223.80 L62.77 223.80 L62.77 218.46 L63.39 218.46 L63.39 213.56 L64.01 213.56 L64.01 203.65 L64.63 203.65 L64.63 198.32 L65.25 198.32 L65.25 193.03 L65.87 193.03 L65.87 190.53 L66.49 190.53 L66.49 192.63 L67.11 192.63 L67.11 196.24 L67.73 196.24 L67.73 198.23 L68.35 198.23 L68.35 199.24 L68.97 199.24 L68.97 197.50 L69.59 197.50 L69.59 197.09 L70.21 197.09 L70.21 197.00 L70.83 197.00 L70.83 201.25 L71.45 201.25 L71.45 209.68 L72.07 209.68 L72.07 213.83 L72.69 213.83 L72.69 220.34 L73.31 220.34 L73.31 225.13 L73.93 225.13 L73.93 228.79 L74.55 228.79 L74.55 230.89 L75.17 230.89 L75.17 231.87 L75.79 231.87 L75.79 232.83 L76.41 232.83 L76.41 237.71 L77.03 237.71 L77.03 240.26 L77.65 240.26 L77.65 247.06 L78.27 247.06 L78.27 247.67 L78.89 247.67 L78.89 252.77 L79.51 252.77 L79.51 253.98 L80.13 253.98 L80.13 254.56 L80.75 254.56 L80.75 257.66 L81.37 257.66 L81.37 259.52 L81.99 259.52 L81.99 260.89 L82.61 260.89 L82.61 263.83 L83.23 263.83 L83.23 267.05 L83.85 267.05 L83.85 267.79 L84.47 267.79 L84.47 272.09 L85.09 272.09 L85.09 275.59 L85.71 275.59 L85.71 280.47 L86.33 280.47 L86.33 283.43 L86.95 283.43 L86.95 285.72 L87.57 285.72 L87.57 287.40 L88.19 287.40 L88.19 289.60 L88.81 289.60 L88.81 290.70 L89.43 290.70 L89.43 292.25 L90.05 292.25 L90.05 293.01 L90.67 293.01 L90.67 294.22 L91.29 294.22 L91.29 295.57 L91.91 295.57 L91.91 296.93 L92.53 296.93 L92.53 297.70 L93.15 297.70 L93.15 299.61 L93.77 299.61 L93.77 300.33 L94.39 300.33 L94.39 301.33 L95.01 301.33 L95.01 302.15 L95.63 302.15 L95.63 302.75 L96.25 302.75 L96.25 302.96 L96.87 302.96 L96.87 303.02 L97.49 303.02 L97.49 303.71 L98.11 303.71 L98.11 303.93 L98.35 303.93 L98.35 304.10 Z" fill="#000"/>
<path d="M66.05 189.41 L66.06 194.51" stroke="#000" stroke-width="1.1" fill="none"/>
<path d="M70.06 192.30 L70.07 198.50" stroke="#000" stroke-width="0.9" fill="none"/>
<path d="M71.36 192.29 L71.39 204.49" stroke="#000" stroke-width="0.9" fill="none"/>
<path d="M75.95 229.08 L75.96 233.48" stroke="#000" stroke-width="0.9" fill="none"/>
<path d="M36.85 304.59 L38.85 302.88 L41.84 299.57 L44.33 296.17 L45.93 294.86 L46.92 292.56 L47.06 270.56 L48.24 260.56 L49.51 250.55 L50.19 241.55 L50.97 235.55 L50.94 222.55 L52.22 216.54 L53.20 210.54 L53.38 200.54 L53.36 193.54 L55.85 190.13 L56.87 195.53 L57.09 203.53 L58.19 205.53 L58.44 222.53 L60.36 230.52 L60.68 238.52" fill="none" stroke="#000" stroke-width="1.25" stroke-dasharray="2.3 1.0" stroke-linejoin="round"/>
<rect x="190.55" y="188.10" width="121.65" height="116.30" fill="none" stroke="#000" stroke-width="1.45"/>
<path d="M190.55 304.40 v5.00 M199.71 304.40 v3.30 M205.06 304.40 v3.30 M208.86 304.40 v3.30 M211.81 304.40 v3.30 M214.22 304.40 v3.30 M216.25 304.40 v3.30 M218.02 304.40 v3.30 M219.57 304.40 v3.30 M220.96 304.40 v5.00 M230.12 304.40 v3.30 M235.47 304.40 v3.30 M239.27 304.40 v3.30 M242.22 304.40 v3.30 M244.63 304.40 v3.30 M246.66 304.40 v3.30 M248.43 304.40 v3.30 M249.98 304.40 v3.30 M251.38 304.40 v5.00 M260.53 304.40 v3.30 M265.89 304.40 v3.30 M269.69 304.40 v3.30 M272.63 304.40 v3.30 M275.04 304.40 v3.30 M277.08 304.40 v3.30 M278.84 304.40 v3.30 M280.40 304.40 v3.30 M281.79 304.40 v5.00 M290.94 304.40 v3.30 M296.30 304.40 v3.30 M300.10 304.40 v3.30 M303.04 304.40 v3.30 M305.45 304.40 v3.30 M307.49 304.40 v3.30 M309.25 304.40 v3.30 M310.81 304.40 v3.30 M312.20 304.40 v5.0" stroke="#000" stroke-width="1.4" fill="none"/>
<text x="183.45" y="318.90" font-size="9.0" font-weight="normal" text-anchor="start" fill="#000" stroke="#000" stroke-width="0.3" textLength="9.40" lengthAdjust="spacingAndGlyphs">10</text>
<text x="192.75" y="314.00" font-size="9.0" font-weight="normal" text-anchor="start" fill="#000" stroke="#000" stroke-width="0.3">0</text>
<text x="213.86" y="318.90" font-size="9.0" font-weight="normal" text-anchor="start" fill="#000" stroke="#000" stroke-width="0.3" textLength="9.40" lengthAdjust="spacingAndGlyphs">10</text>
<text x="223.16" y="314.00" font-size="9.0" font-weight="normal" text-anchor="start" fill="#000" stroke="#000" stroke-width="0.3">1</text>
<text x="244.28" y="318.90" font-size="9.0" font-weight="normal" text-anchor="start" fill="#000" stroke="#000" stroke-width="0.3" textLength="9.40" lengthAdjust="spacingAndGlyphs">10</text>
<text x="253.57" y="314.00" font-size="9.0" font-weight="normal" text-anchor="start" fill="#000" stroke="#000" stroke-width="0.3">2</text>
<text x="274.69" y="318.90" font-size="9.0" font-weight="normal" text-anchor="start" fill="#000" stroke="#000" stroke-width="0.3" textLength="9.40" lengthAdjust="spacingAndGlyphs">10</text>
<text x="283.99" y="314.00" font-size="9.0" font-weight="normal" text-anchor="start" fill="#000" stroke="#000" stroke-width="0.3">3</text>
<text x="305.10" y="318.90" font-size="9.0" font-weight="normal" text-anchor="start" fill="#000" stroke="#000" stroke-width="0.3" textLength="9.40" lengthAdjust="spacingAndGlyphs">10</text>
<text x="314.40" y="314.00" font-size="9.0" font-weight="normal" text-anchor="start" fill="#000" stroke="#000" stroke-width="0.3">4</text>
<path d="M190.55 304.10 h-5.20 M190.55 300.73 h-3.20 M190.55 297.35 h-3.20 M190.55 293.98 h-3.20 M190.55 290.60 h-3.20 M190.55 287.23 h-5.20 M190.55 283.86 h-3.20 M190.55 280.48 h-3.20 M190.55 277.11 h-3.20 M190.55 273.73 h-3.20 M190.55 270.36 h-5.20 M190.55 266.99 h-3.20 M190.55 263.61 h-3.20 M190.55 260.24 h-3.20 M190.55 256.86 h-3.20 M190.55 253.49 h-5.20 M190.55 250.12 h-3.20 M190.55 246.74 h-3.20 M190.55 243.37 h-3.20 M190.55 239.99 h-3.20 M190.55 236.62 h-5.20 M190.55 233.25 h-3.20 M190.55 229.87 h-3.20 M190.55 226.50 h-3.20 M190.55 223.12 h-3.20 M190.55 219.75 h-5.20 M190.55 216.38 h-3.20 M190.55 213.00 h-3.20 M190.55 209.63 h-3.20 M190.55 206.25 h-3.20 M190.55 202.88 h-5.20 M190.55 199.51 h-3.20 M190.55 196.13 h-3.20 M190.55 192.76 h-3.20 M190.55 189.38 h-3.20" stroke="#000" stroke-width="1.35" fill="none"/>
<text x="182.15" y="303.90" font-size="9.0" font-weight="normal" text-anchor="middle" fill="#000" stroke="#000" stroke-width="0.3" textLength="4.80" lengthAdjust="spacingAndGlyphs" transform="rotate(-90 182.15 303.90)">0</text>
<text x="182.15" y="287.03" font-size="9.0" font-weight="normal" text-anchor="middle" fill="#000" stroke="#000" stroke-width="0.3" textLength="9.60" lengthAdjust="spacingAndGlyphs" transform="rotate(-90 182.15 287.03)">10</text>
<text x="182.15" y="270.16" font-size="9.0" font-weight="normal" text-anchor="middle" fill="#000" stroke="#000" stroke-width="0.3" textLength="9.60" lengthAdjust="spacingAndGlyphs" transform="rotate(-90 182.15 270.16)">20</text>
<text x="182.15" y="253.29" font-size="9.0" font-weight="normal" text-anchor="middle" fill="#000" stroke="#000" stroke-width="0.3" textLength="9.60" lengthAdjust="spacingAndGlyphs" transform="rotate(-90 182.15 253.29)">30</text>
<text x="182.15" y="236.42" font-size="9.0" font-weight="normal" text-anchor="middle" fill="#000" stroke="#000" stroke-width="0.3" textLength="9.60" lengthAdjust="spacingAndGlyphs" transform="rotate(-90 182.15 236.42)">40</text>
<text x="182.15" y="219.55" font-size="9.0" font-weight="normal" text-anchor="middle" fill="#000" stroke="#000" stroke-width="0.3" textLength="9.60" lengthAdjust="spacingAndGlyphs" transform="rotate(-90 182.15 219.55)">50</text>
<text x="182.15" y="202.68" font-size="9.0" font-weight="normal" text-anchor="middle" fill="#000" stroke="#000" stroke-width="0.3" textLength="9.60" lengthAdjust="spacingAndGlyphs" transform="rotate(-90 182.15 202.68)">60</text>
<path d="M192.35 304.10 L192.35 303.64 L192.97 303.64 L192.97 303.63 L193.59 303.63 L193.59 303.67 L194.21 303.67 L194.21 303.47 L194.83 303.47 L194.83 303.66 L195.45 303.66 L195.45 303.43 L196.07 303.43 L196.07 303.41 L196.69 303.41 L196.69 303.39 L197.31 303.39 L197.31 303.58 L197.93 303.58 L197.93 303.31 L198.55 303.31 L198.55 303.12 L199.17 303.12 L199.17 302.28 L199.79 302.28 L199.79 301.93 L200.41 301.93 L200.41 302.68 L201.03 302.68 L201.03 303.25 L201.65 303.25 L201.65 303.41 L202.27 303.41 L202.27 303.51 L202.89 303.51 L202.89 303.45 L203.51 303.45 L203.51 303.22 L204.13 303.22 L204.13 302.51 L204.75 302.51 L204.75 301.19 L205.37 301.19 L205.37 299.55 L205.99 299.55 L205.99 299.59 L206.61 299.59 L206.61 299.30 L207.23 299.30 L207.23 299.38 L207.85 299.38 L207.85 299.03 L208.47 299.03 L208.47 298.87 L209.09 298.87 L209.09 298.07 L209.71 298.07 L209.71 297.49 L210.33 297.49 L210.33 296.52 L210.95 296.52 L210.95 295.53 L211.57 295.53 L211.57 294.10 L212.19 294.10 L212.19 293.19 L212.81 293.19 L212.81 291.88 L213.43 291.88 L213.43 290.71 L214.05 290.71 L214.05 287.59 L214.67 287.59 L214.67 287.16 L215.29 287.16 L215.29 280.83 L215.91 280.83 L215.91 279.46 L216.53 279.46 L216.53 273.66 L217.15 273.66 L217.15 263.45 L217.77 263.45 L217.77 260.85 L218.39 260.85 L218.39 255.30 L219.01 255.30 L219.01 248.71 L219.63 248.71 L219.63 239.91 L220.25 239.91 L220.25 234.11 L220.87 234.11 L220.87 229.54 L221.49 229.54 L221.49 228.91 L222.11 228.91 L222.11 220.69 L222.73 220.69 L222.73 216.93 L223.35 216.93 L223.35 207.85 L223.97 207.85 L223.97 204.68 L224.59 204.68 L224.59 203.00 L225.21 203.00 L225.21 191.84 L225.83 191.84 L225.83 191.95 L226.45 191.95 L226.45 197.79 L227.07 197.79 L227.07 200.49 L227.69 200.49 L227.69 202.82 L228.31 202.82 L228.31 204.27 L228.93 204.27 L228.93 208.43 L229.55 208.43 L229.55 209.42 L230.17 209.42 L230.17 209.14 L230.79 209.14 L230.79 206.98 L231.41 206.98 L231.41 208.13 L232.03 208.13 L232.03 211.05 L232.65 211.05 L232.65 214.61 L233.27 214.61 L233.27 223.07 L233.89 223.07 L233.89 228.78 L234.51 228.78 L234.51 232.47 L235.13 232.47 L235.13 237.63 L235.75 237.63 L235.75 237.81 L236.37 237.81 L236.37 243.45 L236.99 243.45 L236.99 247.15 L237.61 247.15 L237.61 248.10 L238.23 248.10 L238.23 255.54 L238.85 255.54 L238.85 258.49 L239.47 258.49 L239.47 262.83 L240.09 262.83 L240.09 263.73 L240.71 263.73 L240.71 267.15 L241.33 267.15 L241.33 270.34 L241.95 270.34 L241.95 275.23 L242.57 275.23 L242.57 276.76 L243.19 276.76 L243.19 278.90 L243.81 278.90 L243.81 281.82 L244.43 281.82 L244.43 283.64 L245.05 283.64 L245.05 285.15 L245.67 285.15 L245.67 287.30 L246.29 287.30 L246.29 290.53 L246.91 290.53 L246.91 290.99 L247.53 290.99 L247.53 293.17 L248.15 293.17 L248.15 293.49 L248.77 293.49 L248.77 294.79 L249.39 294.79 L249.39 296.32 L250.01 296.32 L250.01 296.98 L250.63 296.98 L250.63 298.21 L251.25 298.21 L251.25 299.74 L251.87 299.74 L251.87 300.36 L252.49 300.36 L252.49 300.68 L253.11 300.68 L253.11 301.03 L253.73 301.03 L253.73 301.62 L254.35 301.62 L254.35 302.04 L254.97 302.04 L254.97 302.14 L255.59 302.14 L255.59 302.54 L256.21 302.54 L256.21 302.52 L256.83 302.52 L256.83 303.33 L257.45 303.33 L257.45 303.63 L258.07 303.63 L258.07 304.10 L258.69 304.10 L258.69 304.10 L259.31 304.10 L259.31 304.08 L259.93 304.08 L259.93 304.10 L260.55 304.10 L260.55 304.10 L261.17 304.10 L261.17 304.10 L261.79 304.10 L261.79 304.10 L262.41 304.10 L262.41 304.10 L263.03 304.10 L263.03 304.10 L263.65 304.10 L263.65 304.10 L264.27 304.10 L264.27 304.10 L264.89 304.10 L264.89 304.10 L265.51 304.10 L265.51 304.10 L266.13 304.10 L266.13 304.10 L266.75 304.10 L266.75 304.10 L267.37 304.10 L267.37 304.10 L267.99 304.10 L267.99 304.10 L268.61 304.10 L268.61 304.10 L269.23 304.10 L269.23 304.10 L269.85 304.10 L269.85 304.10 L270.47 304.10 L270.47 304.10 L271.09 304.10 L271.09 304.10 L271.71 304.10 L271.71 304.10 L272.33 304.10 L272.33 304.10 L272.95 304.10 L272.95 304.10 L273.57 304.10 L273.57 304.01 L274.19 304.01 L274.19 303.32 L274.81 303.32 L274.81 301.93 L275.43 301.93 L275.43 302.29 L276.05 302.29 L276.05 303.58 L276.67 303.58 L276.67 304.06 L277.29 304.06 L277.29 304.07 L277.35 304.07 L277.35 304.10 Z" fill="#000"/>
<path d="M225.85 188.29 L225.87 197.09" stroke="#000" stroke-width="1.0" fill="none"/>
<path d="M231.29 205.48 L231.31 211.08" stroke="#000" stroke-width="0.9" fill="none"/>
<path d="M192.34 301.48 L194.14 300.77 L197.04 298.47 L199.33 294.96 L201.02 290.96 L202.10 286.15 L203.29 281.65 L204.88 277.15 L205.06 270.14 L205.14 261.14 L205.51 248.64 L207.20 245.14 L207.57 235.14 L207.74 222.14 L208.21 212.14 L208.19 205.64 L210.29 203.13 L211.07 197.13 L212.25 188.63 L212.57 195.12 L213.39 203.12 L214.21 211.12 L215.13 218.12 L215.74 224.12 L216.36 233.11 L217.58 240.11 L218.50 248.11" fill="none" stroke="#000" stroke-width="1.25" stroke-dasharray="2.3 1.0" stroke-linejoin="round"/>
<path d="M208.19 205.64 L208.12 215.64" fill="none" stroke="#000" stroke-width="1.9" stroke-dasharray="2.3 1.0" stroke-linejoin="round"/>
<rect x="348.80" y="188.10" width="121.65" height="116.30" fill="none" stroke="#000" stroke-width="1.45"/>
<path d="M348.80 304.40 v5.00 M357.96 304.40 v3.30 M363.31 304.40 v3.30 M367.11 304.40 v3.30 M370.06 304.40 v3.30 M372.47 304.40 v3.30 M374.50 304.40 v3.30 M376.27 304.40 v3.30 M377.82 304.40 v3.30 M379.21 304.40 v5.00 M388.37 304.40 v3.30 M393.72 304.40 v3.30 M397.52 304.40 v3.30 M400.47 304.40 v3.30 M402.88 304.40 v3.30 M404.91 304.40 v3.30 M406.68 304.40 v3.30 M408.23 304.40 v3.30 M409.62 304.40 v5.00 M418.78 304.40 v3.30 M424.14 304.40 v3.30 M427.94 304.40 v3.30 M430.88 304.40 v3.30 M433.29 304.40 v3.30 M435.33 304.40 v3.30 M437.09 304.40 v3.30 M438.65 304.40 v3.30 M440.04 304.40 v5.00 M449.19 304.40 v3.30 M454.55 304.40 v3.30 M458.35 304.40 v3.30 M461.29 304.40 v3.30 M463.70 304.40 v3.30 M465.74 304.40 v3.30 M467.50 304.40 v3.30 M469.06 304.40 v3.30 M470.45 304.40 v5.0" stroke="#000" stroke-width="1.4" fill="none"/>
<text x="341.70" y="318.90" font-size="9.0" font-weight="normal" text-anchor="start" fill="#000" stroke="#000" stroke-width="0.3" textLength="9.40" lengthAdjust="spacingAndGlyphs">10</text>
<text x="351.00" y="314.00" font-size="9.0" font-weight="normal" text-anchor="start" fill="#000" stroke="#000" stroke-width="0.3">0</text>
<text x="372.11" y="318.90" font-size="9.0" font-weight="normal" text-anchor="start" fill="#000" stroke="#000" stroke-width="0.3" textLength="9.40" lengthAdjust="spacingAndGlyphs">10</text>
<text x="381.41" y="314.00" font-size="9.0" font-weight="normal" text-anchor="start" fill="#000" stroke="#000" stroke-width="0.3">1</text>
<text x="402.52" y="318.90" font-size="9.0" font-weight="normal" text-anchor="start" fill="#000" stroke="#000" stroke-width="0.3" textLength="9.40" lengthAdjust="spacingAndGlyphs">10</text>
<text x="411.82" y="314.00" font-size="9.0" font-weight="normal" text-anchor="start" fill="#000" stroke="#000" stroke-width="0.3">2</text>
<text x="432.94" y="318.90" font-size="9.0" font-weight="normal" text-anchor="start" fill="#000" stroke="#000" stroke-width="0.3" textLength="9.40" lengthAdjust="spacingAndGlyphs">10</text>
<text x="442.24" y="314.00" font-size="9.0" font-weight="normal" text-anchor="start" fill="#000" stroke="#000" stroke-width="0.3">3</text>
<text x="463.35" y="318.90" font-size="9.0" font-weight="normal" text-anchor="start" fill="#000" stroke="#000" stroke-width="0.3" textLength="9.40" lengthAdjust="spacingAndGlyphs">10</text>
<text x="472.65" y="314.00" font-size="9.0" font-weight="normal" text-anchor="start" fill="#000" stroke="#000" stroke-width="0.3">4</text>
<path d="M348.80 304.70 h-5.20 M348.80 299.32 h-3.20 M348.80 293.94 h-3.20 M348.80 288.56 h-3.20 M348.80 283.18 h-3.20 M348.80 277.80 h-5.20 M348.80 272.42 h-3.20 M348.80 267.04 h-3.20 M348.80 261.66 h-3.20 M348.80 256.28 h-3.20 M348.80 250.90 h-5.20 M348.80 245.52 h-3.20 M348.80 240.14 h-3.20 M348.80 234.76 h-3.20 M348.80 229.38 h-3.20 M348.80 224.00 h-5.20 M348.80 218.62 h-3.20 M348.80 213.24 h-3.20 M348.80 207.86 h-3.20 M348.80 202.48 h-3.20 M348.80 197.10 h-5.20 M348.80 191.72 h-3.20" stroke="#000" stroke-width="1.35" fill="none"/>
<text x="340.40" y="304.50" font-size="9.0" font-weight="normal" text-anchor="middle" fill="#000" stroke="#000" stroke-width="0.3" textLength="4.80" lengthAdjust="spacingAndGlyphs" transform="rotate(-90 340.40 304.50)">0</text>
<text x="340.40" y="277.60" font-size="9.0" font-weight="normal" text-anchor="middle" fill="#000" stroke="#000" stroke-width="0.3" textLength="9.60" lengthAdjust="spacingAndGlyphs" transform="rotate(-90 340.40 277.60)">10</text>
<text x="340.40" y="250.70" font-size="9.0" font-weight="normal" text-anchor="middle" fill="#000" stroke="#000" stroke-width="0.3" textLength="9.60" lengthAdjust="spacingAndGlyphs" transform="rotate(-90 340.40 250.70)">20</text>
<text x="340.40" y="223.80" font-size="9.0" font-weight="normal" text-anchor="middle" fill="#000" stroke="#000" stroke-width="0.3" textLength="9.60" lengthAdjust="spacingAndGlyphs" transform="rotate(-90 340.40 223.80)">30</text>
<text x="340.40" y="196.90" font-size="9.0" font-weight="normal" text-anchor="middle" fill="#000" stroke="#000" stroke-width="0.3" textLength="9.60" lengthAdjust="spacingAndGlyphs" transform="rotate(-90 340.40 196.90)">40</text>
<path d="M350.35 304.10 L350.35 303.07 L350.97 303.07 L350.97 303.22 L351.59 303.22 L351.59 303.12 L352.21 303.12 L352.21 302.92 L352.83 302.92 L352.83 302.90 L353.45 302.90 L353.45 302.94 L354.07 302.94 L354.07 302.84 L354.69 302.84 L354.69 302.80 L355.31 302.80 L355.31 302.75 L355.93 302.75 L355.93 302.75 L356.55 302.75 L356.55 303.08 L357.17 303.08 L357.17 302.74 L357.79 302.74 L357.79 302.83 L358.41 302.83 L358.41 302.90 L359.03 302.90 L359.03 303.02 L359.65 303.02 L359.65 302.68 L360.27 302.68 L360.27 302.56 L360.89 302.56 L360.89 301.93 L361.51 301.93 L361.51 300.96 L362.13 300.96 L362.13 299.62 L362.75 299.62 L362.75 298.92 L363.37 298.92 L363.37 297.17 L363.99 297.17 L363.99 295.60 L364.61 295.60 L364.61 292.38 L365.23 292.38 L365.23 290.79 L365.85 290.79 L365.85 290.56 L366.47 290.56 L366.47 289.82 L367.09 289.82 L367.09 288.71 L367.71 288.71 L367.71 288.07 L368.33 288.07 L368.33 286.46 L368.95 286.46 L368.95 285.20 L369.57 285.20 L369.57 284.31 L370.19 284.31 L370.19 281.96 L370.81 281.96 L370.81 280.00 L371.43 280.00 L371.43 278.21 L372.05 278.21 L372.05 274.86 L372.67 274.86 L372.67 272.95 L373.29 272.95 L373.29 271.40 L373.91 271.40 L373.91 270.48 L374.53 270.48 L374.53 268.75 L375.15 268.75 L375.15 266.88 L375.77 266.88 L375.77 263.62 L376.39 263.62 L376.39 260.07 L377.01 260.07 L377.01 255.08 L377.63 255.08 L377.63 240.64 L378.25 240.64 L378.25 236.25 L378.87 236.25 L378.87 230.75 L379.49 230.75 L379.49 229.72 L380.11 229.72 L380.11 226.90 L380.73 226.90 L380.73 229.93 L381.35 229.93 L381.35 220.24 L381.97 220.24 L381.97 210.21 L382.59 210.21 L382.59 208.80 L383.21 208.80 L383.21 208.74 L383.83 208.74 L383.83 208.60 L384.45 208.60 L384.45 208.45 L385.07 208.45 L385.07 205.22 L385.69 205.22 L385.69 192.80 L386.31 192.80 L386.31 189.23 L386.93 189.23 L386.93 188.60 L387.55 188.60 L387.55 190.79 L388.17 190.79 L388.17 196.30 L388.79 196.30 L388.79 198.39 L389.41 198.39 L389.41 198.17 L390.03 198.17 L390.03 202.87 L390.65 202.87 L390.65 212.08 L391.27 212.08 L391.27 229.52 L391.89 229.52 L391.89 231.10 L392.51 231.10 L392.51 235.87 L393.13 235.87 L393.13 237.36 L393.75 237.36 L393.75 239.90 L394.37 239.90 L394.37 244.84 L394.99 244.84 L394.99 253.32 L395.61 253.32 L395.61 256.24 L396.23 256.24 L396.23 258.62 L396.85 258.62 L396.85 260.66 L397.47 260.66 L397.47 264.24 L398.09 264.24 L398.09 267.13 L398.71 267.13 L398.71 269.13 L399.33 269.13 L399.33 272.24 L399.95 272.24 L399.95 277.10 L400.57 277.10 L400.57 280.99 L401.19 280.99 L401.19 281.74 L401.81 281.74 L401.81 284.14 L402.43 284.14 L402.43 288.03 L403.05 288.03 L403.05 290.25 L403.67 290.25 L403.67 291.80 L404.29 291.80 L404.29 292.38 L404.91 292.38 L404.91 294.39 L405.53 294.39 L405.53 295.43 L406.15 295.43 L406.15 296.02 L406.77 296.02 L406.77 296.34 L407.39 296.34 L407.39 297.30 L408.01 297.30 L408.01 297.45 L408.63 297.45 L408.63 298.26 L409.25 298.26 L409.25 298.45 L409.87 298.45 L409.87 298.97 L410.49 298.97 L410.49 299.80 L411.11 299.80 L411.11 300.06 L411.73 300.06 L411.73 301.06 L412.35 301.06 L412.35 301.36 L412.97 301.36 L412.97 301.76 L413.59 301.76 L413.59 302.36 L414.21 302.36 L414.21 302.98 L414.83 302.98 L414.83 303.58 L415.45 303.58 L415.45 304.10 L416.07 304.10 L416.07 304.02 L416.69 304.02 L416.69 303.61 L417.31 303.61 L417.31 302.08 L417.93 302.08 L417.93 302.43 L418.55 302.43 L418.55 303.42 L419.17 303.42 L419.17 303.97 L419.79 303.97 L419.79 303.98 L420.41 303.98 L420.41 304.10 L421.03 304.10 L421.03 304.10 L421.65 304.10 L421.65 304.10 L422.27 304.10 L422.27 304.10 L422.89 304.10 L422.89 304.10 L423.51 304.10 L423.51 304.10 L424.13 304.10 L424.13 304.10 L424.75 304.10 L424.75 304.10 L425.37 304.10 L425.37 304.10 L425.99 304.10 L425.99 304.10 L426.61 304.10 L426.61 304.10 L427.23 304.10 L427.23 304.10 L427.85 304.10 L427.85 304.10 L428.47 304.10 L428.47 304.10 L429.09 304.10 L429.09 304.10 L429.71 304.10 L429.71 304.10 L430.33 304.10 L430.33 304.10 L430.95 304.10 L430.95 304.10 L431.57 304.10 L431.57 304.05 L432.19 304.05 L432.19 303.27 L432.81 303.27 L432.81 300.84 L433.43 300.84 L433.43 301.74 L434.05 301.74 L434.05 303.03 L434.67 303.03 L434.67 304.10 L435.29 304.10 L435.29 304.10 L435.35 304.10 L435.35 304.10 Z" fill="#000"/>
<path d="M387.00 187.97 L387.03 199.67" stroke="#000" stroke-width="1.9" fill="none"/>
<path d="M380.35 226.09 L380.36 230.69" stroke="#000" stroke-width="0.9" fill="none"/>
<path d="M350.35 302.26 L353.34 300.96 L357.34 300.35 L357.93 296.74 L359.22 292.74 L359.71 289.34 L361.30 284.74 L362.39 278.93 L363.37 273.23 L363.66 269.73 L365.45 265.72 L365.93 258.72 L366.31 251.72 L366.90 244.72 L367.48 239.72 L366.78 236.72 L367.77 233.72 L366.96 230.72 L367.45 228.72 L369.14 221.71 L369.13 217.71 L369.70 209.71 L369.67 196.71 L371.06 191.71 L371.35 188.31 L373.05 189.70 L374.25 188.30 L373.26 193.70 L374.87 196.70 L374.88 199.70 L375.20 209.70 L375.74 223.70 L376.16 231.70 L377.28 238.19" fill="none" stroke="#000" stroke-width="1.25" stroke-dasharray="2.3 1.0" stroke-linejoin="round"/>
</g>
</svg>
</body>
</html>
